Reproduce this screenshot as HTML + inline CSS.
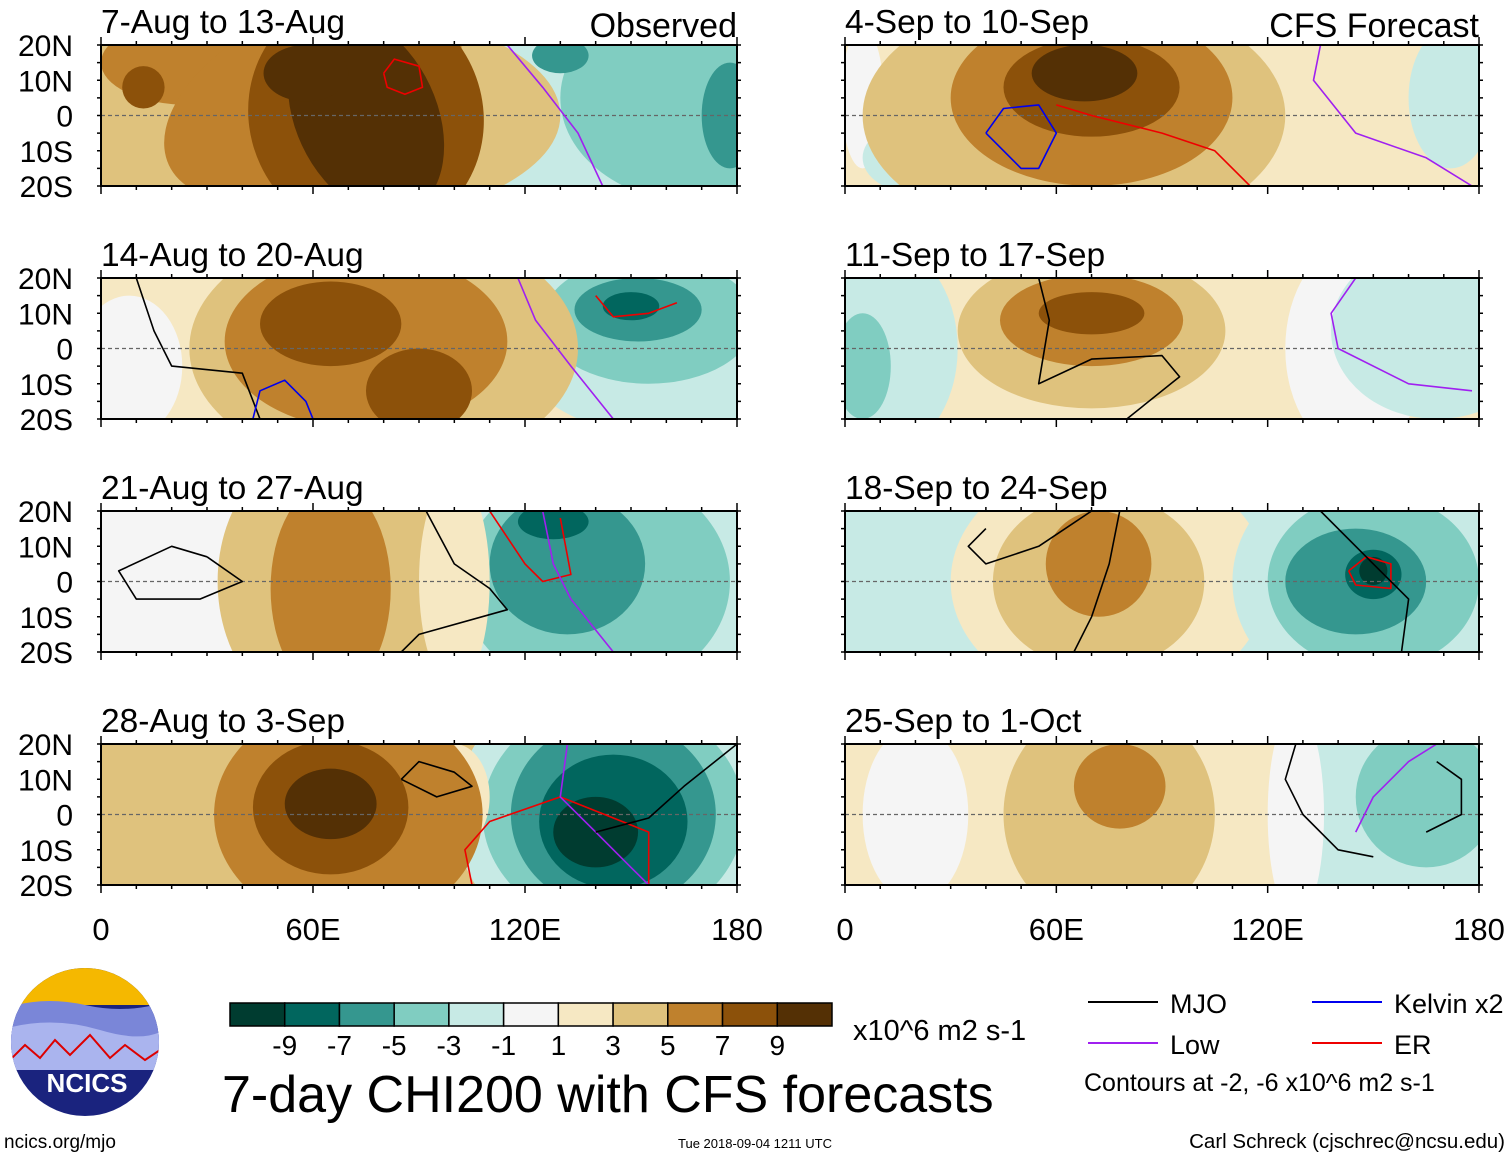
<!DOCTYPE html>
<html><head><meta charset="utf-8">
<style>
body{margin:0;background:#fff;width:1510px;height:1158px;overflow:hidden;font-family:"Liberation Sans",sans-serif;}
svg text{font-family:"Liberation Sans",sans-serif;}
</style></head>
<body>
<svg id="fig" width="1510" height="1158" xmlns="http://www.w3.org/2000/svg"></svg>
<script>
const levels = ["-9","-7","-5","-3","-1","1","3","5","7","9"];
const colors = ["#003c30","#01665e","#35978f","#80cdc1","#c7eae5","#f5f5f5","#f6e8c3","#dfc27d","#bf812d","#8c510a","#543005"];
const panelTitles = ["7-Aug to 13-Aug","14-Aug to 20-Aug","21-Aug to 27-Aug","28-Aug to 3-Sep","4-Sep to 10-Sep","11-Sep to 17-Sep","18-Sep to 24-Sep","25-Sep to 1-Oct"];
const latLabels = ["20N","10N","0","10S","20S"];
const lonLabels = ["0","60E","120E","180"];
const panelBg = [6,6,5,7,6,6,4,6];
const blobs = [
 [[160,0,60,40,4,0],[170,5,40,30,3,0],[130,17,8,5,2,0],[178,0,8,15,2,0],[55,0,75,32,7,0],[25,15,25,12,8,0],[60,5,45,25,8,-25],[12,8,6,6,9,0],[75,0,33,35,9,-25],[75,0,20,30,10,-25],[58,12,12,8,10,0]],
 [[160,5,45,30,4,0],[155,8,30,18,3,0],[152,11,18,9,2,0],[150,12,8,4,1,0],[8,-5,15,20,5,0],[80,0,55,35,7,0],[75,2,40,25,8,0],[65,7,20,12,9,0],[90,-12,15,12,9,0]],
 [[145,0,55,40,4,0],[140,0,38,32,3,0],[132,5,22,20,2,0],[128,17,10,5,1,0],[65,0,32,40,7,0],[65,-2,17,30,8,0],[100,0,10,30,6,0]],
 [[145,0,45,40,4,0],[145,0,37,32,3,0],[145,0,29,27,2,0],[145,-2,21,19,1,0],[140,-5,12,10,0,0],[100,5,10,15,6,0],[70,0,38,32,8,0],[65,2,22,19,9,0],[65,3,13,10,10,0]],
 [[5,5,6,20,5,0],[20,-12,15,10,4,0],[172,5,12,20,4,0],[65,0,60,35,7,0],[70,5,40,25,8,0],[70,8,25,14,9,0],[68,12,15,8,10,0]],
 [[10,0,22,30,4,0],[5,-5,8,15,3,0],[145,0,20,30,5,0],[168,5,30,25,4,0],[70,5,38,22,7,0],[70,8,26,13,8,0],[70,10,15,6,9,0]],
 [[75,0,45,35,6,0],[72,0,30,25,7,0],[72,5,15,15,8,0],[150,0,40,35,4,0],[150,0,30,25,3,0],[145,0,20,15,2,0],[150,2,8,7,1,0],[150,3,4,4,0,0]],
 [[20,0,15,25,5,0],[75,0,30,32,7,0],[78,8,13,12,8,0],[158,0,35,32,4,0],[165,5,20,20,3,0],[128,0,8,30,5,0]]
];
// contour lines: [panelIndex, color, [lon,lat,...]]
const contours = [
 [0,'#a020f0',[115,20,125,8,135,-5,142,-20]],
 [0,'#ee0000',[80,12,83,16,90,14,91,8,86,6,81,8,80,12]],
 [1,'#a020f0',[118,20,123,8,133,-5,145,-20]],
 [1,'#000',[10,20,15,5,20,-5,40,-7,45,-20]],
 [1,'#0000ee',[43,-20,45,-12,52,-9,58,-15,60,-20]],
 [1,'#ee0000',[140,15,145,9,155,10,163,13]],
 [2,'#000',[92,20,100,5,110,-2,115,-8,90,-15,85,-20]],
 [2,'#000',[30,7,20,10,5,3,10,-5,28,-5,40,0,30,7]],
 [2,'#ee0000',[110,20,120,5,125,0,133,2,130,18]],
 [2,'#a020f0',[125,20,128,5,133,-5,145,-20]],
 [3,'#000',[85,10,90,15,100,12,105,8,95,5,85,10]],
 [3,'#ee0000',[105,-20,103,-10,110,-2,130,5,155,-5,155,-20]],
 [3,'#a020f0',[132,20,130,5,140,-5,150,-15,155,-20]],
 [3,'#000',[140,-5,155,-1,165,8,180,20]],
 [4,'#0000ee',[40,-5,45,2,55,3,60,-5,55,-15,50,-15,40,-5]],
 [4,'#ee0000',[60,3,70,0,90,-5,105,-10,115,-20]],
 [4,'#a020f0',[135,20,133,10,145,-5,165,-12,178,-20]],
 [5,'#000',[55,20,58,8,55,-10,70,-3,90,-2,95,-8,80,-20]],
 [5,'#a020f0',[145,20,138,10,140,0,160,-10,178,-12]],
 [6,'#000',[40,15,35,10,40,5,55,10,70,20]],
 [6,'#000',[78,20,75,5,70,-10,65,-20]],
 [6,'#ee0000',[143,3,148,7,155,5,155,-2,145,-1,143,3]],
 [6,'#000',[135,20,150,5,160,-5,158,-20]],
 [7,'#000',[128,20,125,10,130,0,140,-10,150,-12]],
 [7,'#a020f0',[145,-5,150,5,160,15,168,20]],
 [7,'#000',[168,15,175,10,175,0,165,-5]]
];
const NS="http://www.w3.org/2000/svg";
const fig=document.getElementById('fig');
function el(t,a,p){const e=document.createElementNS(NS,t);for(const k in a)e.setAttribute(k,a[k]);(p||fig).appendChild(e);return e;}
const tops=[45,278,511,744];
const inners=[],axes=[];
for(let i=0;i<8;i++){
  const col=i<4?0:1,row=i%4;
  const x0=col?845:101,w=col?634:636,y0=tops[row],h=141;
  const X=lon=>x0+lon/180*w, Y=lat=>y0+(20-lat)/40*h;
  axes.push([X,Y]);
  const g=el('g',{});
  
  
  const cp=el('clipPath',{id:'cp'+i},g);
  el('rect',{x:x0,y:y0,width:w,height:h},cp);
  const inner=el('g',{'clip-path':'url(#cp'+i+')'},g);
  inners.push(inner);
  el('rect',{x:x0,y:y0,width:w,height:h,fill:colors[panelBg[i]]},inner);
  blobs[i].forEach(b=>{
    const cx=X(b[0]),cy=Y(b[1]);
    const e=el('ellipse',{cx:cx,cy:cy,rx:b[2]/180*w,ry:b[3]/40*h,fill:colors[b[4]],transform:`rotate(${b[5]} ${cx} ${cy})`},inner);
    
    
  });
  el('line',{x1:x0,x2:x0+w,y1:Y(0),y2:Y(0),stroke:'#666','stroke-dasharray':'4 3','stroke-width':1.2},inner);
  el('rect',{x:x0,y:y0,width:w,height:h,fill:'none',stroke:'#000','stroke-width':2},g);
  for(let l=0;l<=180;l+=10){const len=l%60==0?8:4;
    el('line',{x1:X(l),x2:X(l),y1:y0,y2:y0-len,stroke:'#000','stroke-width':1.5},g);
    el('line',{x1:X(l),x2:X(l),y1:y0+h,y2:y0+h+len,stroke:'#000','stroke-width':1.5},g);}
  for(let la=-20;la<=20;la+=5){
    el('line',{x1:x0,x2:x0-4,y1:Y(la),y2:Y(la),stroke:'#000','stroke-width':1.5},g);
    el('line',{x1:x0+w,x2:x0+w+4,y1:Y(la),y2:Y(la),stroke:'#000','stroke-width':1.5},g);}
  const t=el('text',{x:x0,y:y0-12,'font-size':33.5},g);t.textContent=panelTitles[i];
  
  if(col==0){latLabels.forEach((s,k)=>{const tt=el('text',{x:73,y:y0+k*h/4+11,'font-size':30,'text-anchor':'end'},g);tt.textContent=s;
    });}
  if(row==3){lonLabels.forEach((s,k)=>{const tt=el('text',{x:x0+k*w/3,y:940,'font-size':31,'text-anchor':'middle'},g);tt.textContent=s;
    });}
}
contours.forEach(c=>{const [X,Y]=axes[c[0]];const p=c[2];let pts=[];
  for(let k=0;k<p.length;k+=2)pts.push(X(p[k]).toFixed(1)+','+Y(p[k+1]).toFixed(1));
  const pl=el('polyline',{points:pts.join(' '),fill:'none',stroke:c[1],'stroke-width':1.6,'stroke-linejoin':'round'},inners[c[0]]);
  });
const ob=el('text',{x:737,y:37,'font-size':34,'text-anchor':'end'});ob.textContent='Observed';

const cf=el('text',{x:1479,y:37,'font-size':34,'text-anchor':'end'});cf.textContent='CFS Forecast';

const cb=el('g',{});
const cbx=230,cbw=602/11;
colors.forEach((c,k)=>el('rect',{x:cbx+k*cbw,y:1003,width:cbw,height:23,fill:c,stroke:'#000','stroke-width':1.5},cb));
levels.forEach((s,k)=>{const t=el('text',{x:cbx+(k+1)*cbw,y:1055,'font-size':28,'text-anchor':'middle'},cb);t.textContent=s;});
const un=el('text',{x:853,y:1040,'font-size':29});un.textContent='x10^6 m2 s-1';

const mt=el('text',{x:222,y:1112,'font-size':52});mt.textContent='7-day CHI200 with CFS forecasts';

const leg=[['MJO','#000',1088,1002],['Kelvin x2','#0000ee',1312,1002],['Low','#a020f0',1088,1043],['ER','#ee0000',1312,1043]];
leg.forEach(l=>{const g=el('g',{});
  el('line',{x1:l[2],x2:l[2]+70,y1:l[3],y2:l[3],stroke:l[1],'stroke-width':2},g);
  const t=el('text',{x:l[2]+82,y:l[3]+11,'font-size':27},g);t.textContent=l[0];});
const ct=el('text',{x:1084,y:1091,'font-size':25});ct.textContent='Contours at -2, -6 x10^6 m2 s-1';

const t1=el('text',{x:4,y:1148,'font-size':19});t1.textContent='ncics.org/mjo';

const t2=el('text',{x:755,y:1148,'font-size':13,'text-anchor':'middle'});t2.textContent='Tue 2018-09-04 1211 UTC';

const t3=el('text',{x:1505,y:1148,'font-size':20.5,'text-anchor':'end'});t3.textContent='Carl Schreck (cjschrec@ncsu.edu)';

const lg=el('g',{});
const lc=el('clipPath',{id:'lc'},lg);
el('circle',{cx:85,cy:1042,r:74},lc);
const li=el('g',{'clip-path':'url(#lc)'},lg);
el('rect',{x:0,y:960,width:170,height:170,fill:'#1a237e'},li);
el('rect',{x:0,y:960,width:170,height:45,fill:'#f5b800'},li);
el('path',{d:'M0 1010 Q40 995 85 1005 T170 1000 L170 1060 L0 1060Z',fill:'#7a86d8'},li);
el('path',{d:'M0 1030 Q50 1015 100 1030 T170 1025 L170 1070 L0 1070Z',fill:'#aab4ee'},li);
el('polyline',{points:'10,1060 25,1045 40,1058 55,1040 70,1055 90,1035 110,1058 125,1045 145,1060 160,1050',fill:'none',stroke:'#d00','stroke-width':2},li);
const lt=el('text',{x:87,y:1092,'font-size':26,'font-weight':'bold',fill:'#fff','text-anchor':'middle'},lg);lt.textContent='NCICS';
</script>
</body></html>
